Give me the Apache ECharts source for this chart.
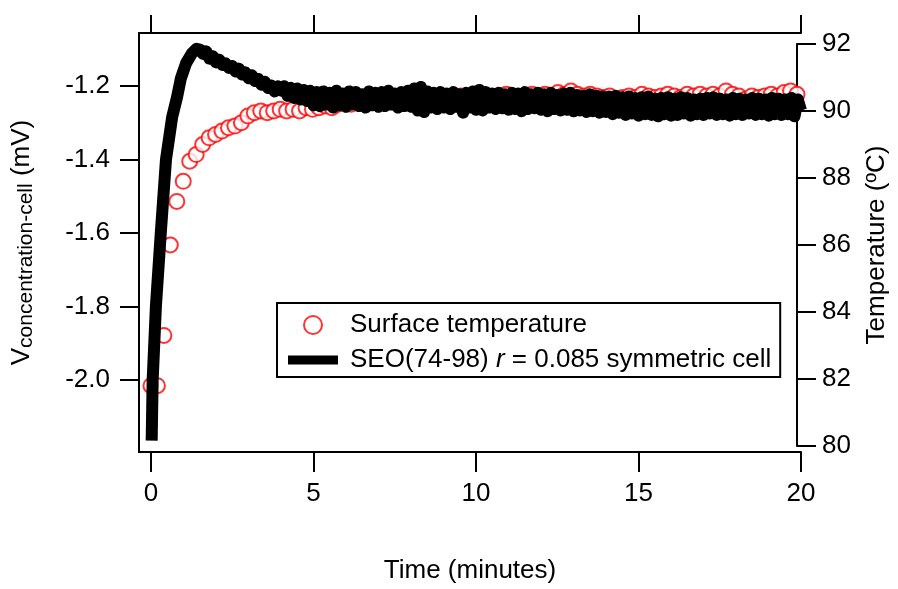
<!DOCTYPE html>
<html>
<head>
<meta charset="utf-8">
<script src="https://cdn.jsdelivr.net/npm/echarts@6/dist/echarts.min.js"></script>
<style>
  html, body { margin: 0; padding: 0; background: #fff; }
  #chart { width: 898px; height: 589px; }
</style>
</head>
<body>
<div id="chart"></div>
<script>
// ---------------- data ----------------
const xTicks = [0, 5, 10, 15, 20];
const leftTicks = [-2.0, -1.8, -1.6, -1.4, -1.2];
const rightTicks = [80, 82, 84, 86, 88, 90, 92];

const seriesTempName = 'Surface temperature';
const seriesVoltName = 'SEO(74-98) r = 0.085 symmetric cell';

// Surface temperature (ºC) vs time (minutes)
const tempTime = [
  0.0, 0.2, 0.4, 0.6, 0.8, 1.0, 1.2, 1.4, 1.6, 1.8,
  2.0, 2.2, 2.4, 2.6, 2.8, 3.0, 3.2, 3.4, 3.6, 3.8,
  4.0, 4.2, 4.4, 4.6, 4.8, 5.0, 5.2, 5.4, 5.6, 5.8,
  6.0, 6.2, 6.4, 6.6, 6.8, 7.0, 7.2, 7.4, 7.6, 7.8,
  8.0, 8.2, 8.4, 8.6, 8.8, 9.0, 9.2, 9.4, 9.6, 9.8,
  10.0, 10.2, 10.4, 10.6, 10.8, 11.0, 11.2, 11.4, 11.6, 11.8,
  12.0, 12.2, 12.4, 12.6, 12.8, 13.0, 13.2, 13.4, 13.6, 13.8,
  14.0, 14.2, 14.4, 14.6, 14.8, 15.0, 15.2, 15.4, 15.6, 15.8,
  16.0, 16.2, 16.4, 16.6, 16.8, 17.0, 17.2, 17.4, 17.6, 17.8,
  18.0, 18.2, 18.4, 18.6, 18.8, 19.0, 19.2, 19.4, 19.6, 19.8, 20.0
];
const tempValue = [
  81.8, 81.8, 83.3, 86.0, 87.3, 87.9, 88.5, 88.7, 89.0, 89.2,
  89.3, 89.4, 89.5, 89.55, 89.65, 89.85, 89.95, 90.0, 89.95, 90.0,
  90.05, 90.0, 90.05, 90.0, 90.1, 90.05, 90.1, 90.15, 90.1, 90.2,
  90.25, 90.2, 90.3, 90.25, 90.3, 90.35, 90.3, 90.4, 90.35, 90.4,
  90.35, 90.45, 90.4, 90.35, 90.4, 90.45, 90.4, 90.35, 90.45, 90.4,
  90.45, 90.5, 90.45, 90.4, 90.45, 90.5, 90.45, 90.4, 90.45, 90.5,
  90.45, 90.5, 90.45, 90.55, 90.5, 90.6, 90.5, 90.45, 90.5, 90.45,
  90.4, 90.45, 90.35, 90.4, 90.45, 90.4, 90.5, 90.45, 90.4, 90.45,
  90.5, 90.45, 90.4, 90.5, 90.45, 90.5, 90.45, 90.5, 90.45, 90.6,
  90.5, 90.45, 90.35, 90.45, 90.4, 90.45, 90.5, 90.45, 90.55, 90.6, 90.5
];

// Concentration-cell voltage (mV) vs time (minutes)
const voltTime = [
  0.02, 0.05, 0.15, 0.3, 0.46, 0.65, 0.8, 0.92, 1.08, 1.26, 1.4,
  1.5, 1.6, 1.7, 1.8, 1.9, 2.0, 2.1, 2.2, 2.3, 2.4, 2.5, 2.6, 2.7, 2.8, 2.9,
  3.0, 3.1, 3.2, 3.3, 3.4, 3.5, 3.6, 3.7, 3.8, 3.9,
  4.0, 4.1, 4.2, 4.3, 4.4, 4.5, 4.6, 4.7, 4.8, 4.9,
  5.0, 5.1, 5.2, 5.3, 5.4, 5.5, 5.6, 5.7, 5.8, 5.9,
  6.0, 6.1, 6.2, 6.3, 6.4, 6.5, 6.6, 6.7, 6.8, 6.9,
  7.0, 7.1, 7.2, 7.3, 7.4, 7.5, 7.6, 7.7, 7.8, 7.9,
  8.0, 8.1, 8.2, 8.3, 8.4, 8.5, 8.6, 8.7, 8.8, 8.9,
  9.0, 9.1, 9.2, 9.3, 9.4, 9.5, 9.6, 9.7, 9.8, 9.9,
  10.0, 10.1, 10.2, 10.3, 10.4, 10.5, 10.6, 10.7, 10.8, 10.9,
  11.0, 11.1, 11.2, 11.3, 11.4, 11.5, 11.6, 11.7, 11.8, 11.9,
  12.0, 12.1, 12.2, 12.3, 12.4, 12.5, 12.6, 12.7, 12.8, 12.9,
  13.0, 13.1, 13.2, 13.3, 13.4, 13.5, 13.6, 13.7, 13.8, 13.9,
  14.0, 14.1, 14.2, 14.3, 14.4, 14.5, 14.6, 14.7, 14.8, 14.9,
  15.0, 15.1, 15.2, 15.3, 15.4, 15.5, 15.6, 15.7, 15.8, 15.9,
  16.0, 16.1, 16.2, 16.3, 16.4, 16.5, 16.6, 16.7, 16.8, 16.9,
  17.0, 17.1, 17.2, 17.3, 17.4, 17.5, 17.6, 17.7, 17.8, 17.9,
  18.0, 18.1, 18.2, 18.3, 18.4, 18.5, 18.6, 18.7, 18.8, 18.9,
  19.0, 19.1, 19.2, 19.3, 19.4, 19.5, 19.6, 19.7, 19.8, 19.9, 20.0
];
const voltValue = [
  -2.165, -2.0, -1.8, -1.6, -1.4, -1.284, -1.23, -1.178, -1.137, -1.11, -1.098,
  -1.100, -1.112, -1.105, -1.125, -1.118, -1.135, -1.128, -1.142, -1.138, -1.150, -1.145, -1.160, -1.152, -1.168, -1.162,
  -1.178, -1.170, -1.186, -1.180, -1.196, -1.188, -1.205, -1.198, -1.214, -1.200,
  -1.212, -1.200, -1.226, -1.204, -1.232, -1.206, -1.236, -1.210, -1.240, -1.212,
  -1.252, -1.216, -1.254, -1.214, -1.250, -1.218, -1.258, -1.212, -1.252, -1.220,
  -1.256, -1.214, -1.250, -1.216, -1.254, -1.222, -1.258, -1.214, -1.252, -1.218,
  -1.256, -1.216, -1.254, -1.212, -1.250, -1.220, -1.258, -1.216, -1.254, -1.212,
  -1.256, -1.206, -1.266, -1.202, -1.270, -1.214, -1.258, -1.218, -1.262, -1.216,
  -1.258, -1.220, -1.262, -1.216, -1.256, -1.222, -1.272, -1.218, -1.258, -1.214,
  -1.264, -1.210, -1.266, -1.216, -1.258, -1.220, -1.262, -1.218, -1.260, -1.222,
  -1.264, -1.218, -1.262, -1.220, -1.268, -1.216, -1.262, -1.222, -1.260, -1.218,
  -1.264, -1.222, -1.268, -1.218, -1.262, -1.224, -1.266, -1.220, -1.264, -1.218,
  -1.268, -1.224, -1.266, -1.226, -1.270, -1.222, -1.268, -1.226, -1.272, -1.228,
  -1.270, -1.228, -1.276, -1.226, -1.272, -1.230, -1.278, -1.228, -1.274, -1.232,
  -1.280, -1.230, -1.276, -1.228, -1.278, -1.234, -1.282, -1.232, -1.276, -1.230,
  -1.280, -1.234, -1.278, -1.230, -1.274, -1.232, -1.280, -1.236, -1.276, -1.234,
  -1.278, -1.232, -1.274, -1.230, -1.278, -1.234, -1.276, -1.236, -1.280, -1.232,
  -1.276, -1.234, -1.278, -1.236, -1.274, -1.232, -1.278, -1.234, -1.276, -1.236,
  -1.280, -1.232, -1.276, -1.234, -1.278, -1.236, -1.276, -1.232, -1.282, -1.236, -1.266
];

// ---------------- chart ----------------
const FONT = "'Liberation Sans', Arial, sans-serif";
const FS = 26;

const tempData = tempTime.map((t, i) => [t, tempValue[i]]);
const voltData = voltTime.map((t, i) => [t, voltValue[i]]);

const axisLineStyle = { color: '#000', width: 2 };

const chart = echarts.init(document.getElementById('chart'), null, { renderer: 'canvas' });
chart.setOption({
  animation: false,
  backgroundColor: '#fff',
  textStyle: { fontFamily: FONT },
  grid: [
    { left: 139, right: 97, top: 33, bottom: 131, show: false },
    { left: 139, right: 97, top: 44, bottom: 143, show: false }
  ],
  legend: {
    left: 277, top: 303,
    orient: 'vertical',
    backgroundColor: '#fff',
    borderColor: '#000',
    borderWidth: 2,
    borderRadius: 0,
    padding: [9, 9, 4, 11],
    itemWidth: 50,
    itemHeight: 18,
    itemGap: 9,
    symbolKeepAspect: true,
    textStyle: {
      fontFamily: FONT, fontSize: FS, color: '#000', lineHeight: 26,
      padding: [0, 0, 0, 7],
      rich: { i: { fontStyle: 'italic', fontFamily: FONT, fontSize: FS, color: '#000', lineHeight: 26 } }
    },
    formatter: function (name) {
      if (name === seriesVoltName) return 'SEO(74-98) {i|r} = 0.085 symmetric cell';
      return name;
    },
    data: [
      { name: seriesTempName, icon: 'emptyCircle', itemStyle: { color: '#ff0000', borderColor: '#ff0000', borderWidth: 1.5 } },
      { name: seriesVoltName, icon: 'path://M0,0H50V9H0Z', itemStyle: { color: '#000', borderWidth: 0 } }
    ]
  },
  xAxis: [
    {
      gridIndex: 0, type: 'value', position: 'bottom', min: -0.37, max: 20,
      axisLine: { show: true, onZero: false, lineStyle: axisLineStyle },
      axisTick: { show: true, inside: false, length: 20, customValues: xTicks, lineStyle: axisLineStyle },
      axisLabel: { show: true, customValues: xTicks, margin: 29, fontSize: FS, color: '#000', fontFamily: FONT },
      splitLine: { show: false },
      name: 'Time (minutes)', nameLocation: 'middle', nameGap: 106,
      nameTextStyle: { fontSize: FS, color: '#000', fontFamily: FONT }
    },
    {
      gridIndex: 0, type: 'value', position: 'top', min: -0.37, max: 20,
      axisLine: { show: true, onZero: false, lineStyle: axisLineStyle },
      axisTick: { show: true, inside: false, length: 18, customValues: xTicks, lineStyle: axisLineStyle },
      axisLabel: { show: false },
      splitLine: { show: false }
    },
    {
      gridIndex: 1, type: 'value', min: -0.37, max: 20, show: false
    }
  ],
  yAxis: [
    {
      gridIndex: 0, type: 'value', position: 'left', min: -2.196, max: -1.055,
      axisLine: { show: true, onZero: false, lineStyle: axisLineStyle },
      axisTick: { show: true, inside: false, length: 19, customValues: leftTicks, lineStyle: axisLineStyle },
      axisLabel: {
        show: true, customValues: leftTicks, margin: 29, fontSize: FS, color: '#000', fontFamily: FONT,
        formatter: v => v.toFixed(1)
      },
      splitLine: { show: false },
      name: '{v|V}{s|concentration-cell}{u| (mV)}',
      nameLocation: 'middle', nameGap: 102,
      nameTextStyle: {
        color: '#000', fontFamily: FONT,
        rich: {
          v: { fontSize: FS, fontFamily: FONT, color: '#000', lineHeight: 30, verticalAlign: 'middle' },
          s: { fontSize: 21, fontFamily: FONT, color: '#000', lineHeight: 21, verticalAlign: 'bottom' },
          u: { fontSize: FS, fontFamily: FONT, color: '#000', lineHeight: 30, verticalAlign: 'middle' }
        }
      }
    },
    {
      gridIndex: 1, type: 'value', position: 'right', min: 80, max: 92, interval: 2,
      axisLine: { show: true, onZero: false, lineStyle: axisLineStyle },
      axisTick: { show: true, inside: false, length: 19, customValues: rightTicks, lineStyle: axisLineStyle },
      axisLabel: { show: true, customValues: rightTicks, margin: 25, fontSize: FS, color: '#000', fontFamily: FONT },
      splitLine: { show: false },
      name: 'Temperature (ºC)', nameLocation: 'middle', nameGap: 67,
      nameTextStyle: { fontSize: FS, color: '#000', fontFamily: FONT }
    }
  ],
  series: [
    {
      name: seriesTempName,
      type: 'scatter',
      xAxisIndex: 2, yAxisIndex: 1,
      data: tempData,
      symbol: 'emptyCircle',
      symbolSize: 15,
      itemStyle: { color: '#ff0000', borderColor: '#ff0000', borderWidth: 1.5 },
      z: 2,
      silent: true
    },
    {
      name: seriesVoltName,
      type: 'line',
      xAxisIndex: 0, yAxisIndex: 0,
      data: voltData,
      symbol: 'none',
      showSymbol: false,
      lineStyle: { color: '#000', width: 12, join: 'round', cap: 'butt' },
      itemStyle: { color: '#000' },
      z: 3,
      silent: true
    }
  ]
});
</script>
</body>
</html>
